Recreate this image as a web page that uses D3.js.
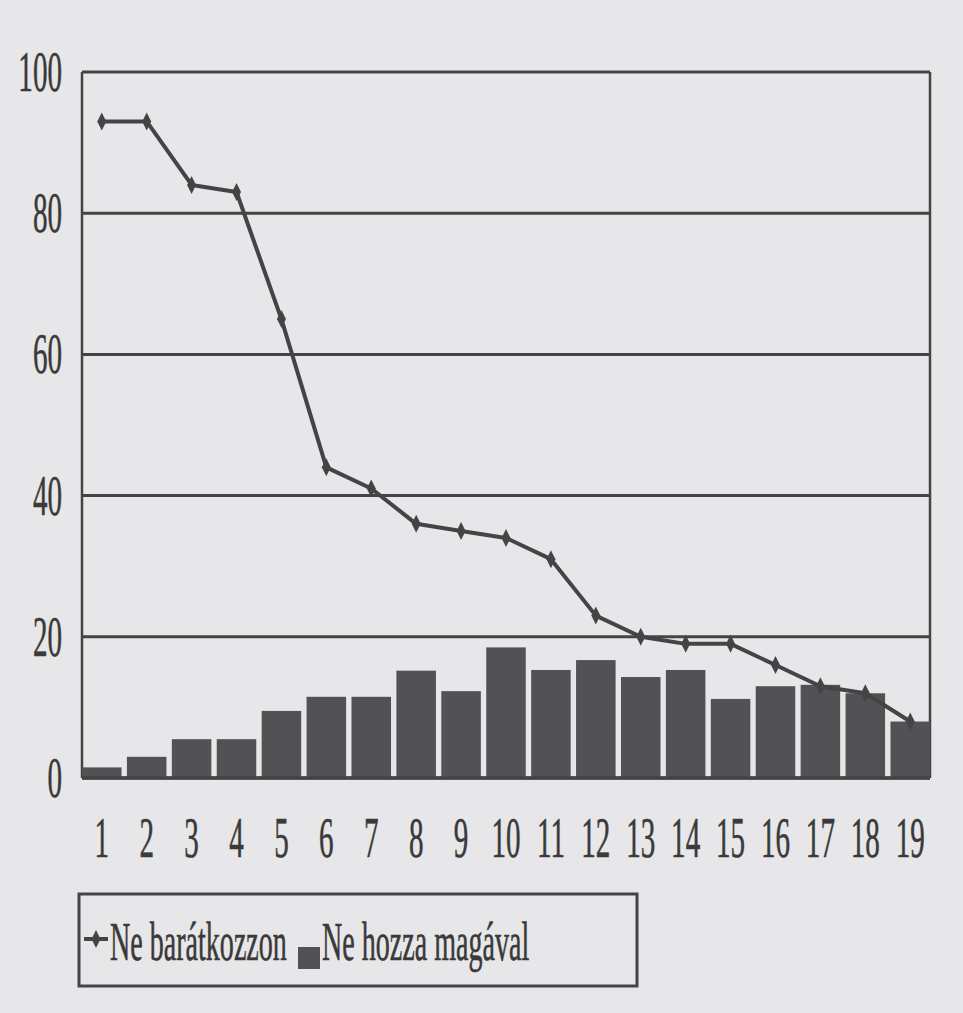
<!DOCTYPE html>
<html>
<head>
<meta charset="utf-8">
<script src="https://cdn.jsdelivr.net/npm/d3@7"></script>
<style>
  html, body { margin: 0; padding: 0; background: #e7e7e9; }
  svg { display: block; }
  text { font-family: 'Liberation Serif', 'Times New Roman', serif; fill: #3a3a3a; stroke: #3a3a3a; stroke-width: 0.6; }
</style>
</head>
<body>
<div id="chart"></div>
<script>
const categories = ['1', '2', '3', '4', '5', '6', '7', '8', '9', '10', '11', '12', '13', '14', '15', '16', '17', '18', '19'];
const neBaratkozzon = [93, 93, 84, 83, 65, 44, 41, 36, 35, 34, 31, 23, 20, 19, 19, 16, 13, 12, 8];
const neHozzaMagaval = [1.5, 3, 5.5, 5.5, 9.5, 11.5, 11.5, 15.2, 12.3, 18.5, 15.3, 16.7, 14.3, 15.3, 11.2, 13, 13.2, 12, 8];
const yTicks = [0, 20, 40, 60, 80, 100];
const seriesNames = ['Ne barátkozzon', 'Ne hozza magával'];

const width = 963;
const height = 1013;
const margin = { top: 72, bottom: 235, left: 82, right: 33 };
const ink = '#444446';
const barFill = '#525254';
const squeeze = 0.52;

const svg = d3.select('#chart')
  .append('svg')
    .attr('width', width)
    .attr('height', height);

const xScale = d3.scaleBand()
  .domain(categories)
  .range([margin.left, width - margin.right])
  .paddingInner(0.12)
  .paddingOuter(0);

const yScale = d3.scaleLinear()
  .domain([0, 100])
  .range([height - margin.bottom, margin.top]);

// horizontal grid lines (the 100 line is the top of the frame)
svg.append('g')
  .selectAll('line')
  .data(yTicks)
  .enter()
  .append('line')
    .attr('x1', margin.left)
    .attr('x2', width - margin.right)
    .attr('y1', d => yScale(d))
    .attr('y2', d => yScale(d))
    .attr('stroke', ink)
    .attr('stroke-width', 3);

// left and right sides of the frame
svg.append('g')
  .selectAll('line')
  .data([margin.left, width - margin.right])
  .enter()
  .append('line')
    .attr('x1', d => d)
    .attr('x2', d => d)
    .attr('y1', yScale(100))
    .attr('y2', yScale(0))
    .attr('stroke', ink)
    .attr('stroke-width', 2.5);

// y tick labels
svg.append('g')
  .selectAll('text')
  .data(yTicks)
  .enter()
  .append('text')
    .attr('transform', d => `translate(62, ${yScale(d) + 19}) scale(${squeeze}, 1)`)
    .attr('text-anchor', 'end')
    .attr('font-size', 56)
    .text(d => d);

// bars
svg.append('g')
  .selectAll('rect')
  .data(categories)
  .enter()
  .append('rect')
    .attr('x', d => xScale(d))
    .attr('width', xScale.bandwidth())
    .attr('y', (d, i) => yScale(neHozzaMagaval[i]))
    .attr('height', (d, i) => yScale(0) - yScale(neHozzaMagaval[i]))
    .attr('fill', barFill);

// zero line on top of the bars
svg.append('line')
  .attr('x1', margin.left)
  .attr('x2', width - margin.right)
  .attr('y1', yScale(0))
  .attr('y2', yScale(0))
  .attr('stroke', ink)
  .attr('stroke-width', 3.5);

// x tick labels
svg.append('g')
  .selectAll('text')
  .data(categories)
  .enter()
  .append('text')
    .attr('transform', d => `translate(${xScale(d) + xScale.bandwidth() / 2}, 857) scale(${squeeze}, 1)`)
    .attr('text-anchor', 'middle')
    .attr('font-size', 56)
    .text(d => d);

// line series
const cx = d => xScale(d) + xScale.bandwidth() / 2;
const line = d3.line()
  .x(d => cx(d.cat))
  .y(d => yScale(d.value));

const points = categories.map((c, i) => ({ cat: c, value: neBaratkozzon[i] }));

svg.append('path')
  .datum(points)
  .attr('d', line)
  .attr('fill', 'none')
  .attr('stroke', ink)
  .attr('stroke-width', 4)
  .attr('stroke-linejoin', 'round');

const marker = 'M0,-9L4.5,0L0,9L-4.5,0Z';

svg.append('g')
  .selectAll('path')
  .data(points)
  .enter()
  .append('path')
    .attr('d', marker)
    .attr('transform', d => `translate(${cx(d.cat)}, ${yScale(d.value)})`)
    .attr('fill', ink);

// legend
const legend = svg.append('g');

legend.append('rect')
  .attr('x', 79)
  .attr('y', 894)
  .attr('width', 558)
  .attr('height', 92)
  .attr('fill', 'none')
  .attr('stroke', ink)
  .attr('stroke-width', 3);

legend.append('line')
  .attr('x1', 84)
  .attr('x2', 108)
  .attr('y1', 939)
  .attr('y2', 939)
  .attr('stroke', ink)
  .attr('stroke-width', 4);

legend.append('path')
  .attr('d', marker)
  .attr('transform', 'translate(96, 939)')
  .attr('fill', ink);

legend.append('text')
  .attr('transform', `translate(110, 960) scale(${squeeze}, 1)`)
  .attr('font-size', 54)
  .text(seriesNames[0]);

legend.append('rect')
  .attr('x', 298)
  .attr('y', 947)
  .attr('width', 22)
  .attr('height', 22)
  .attr('fill', barFill);

legend.append('text')
  .attr('transform', `translate(322, 960) scale(${squeeze}, 1)`)
  .attr('font-size', 54)
  .text(seriesNames[1]);
</script>
</body>
</html>
